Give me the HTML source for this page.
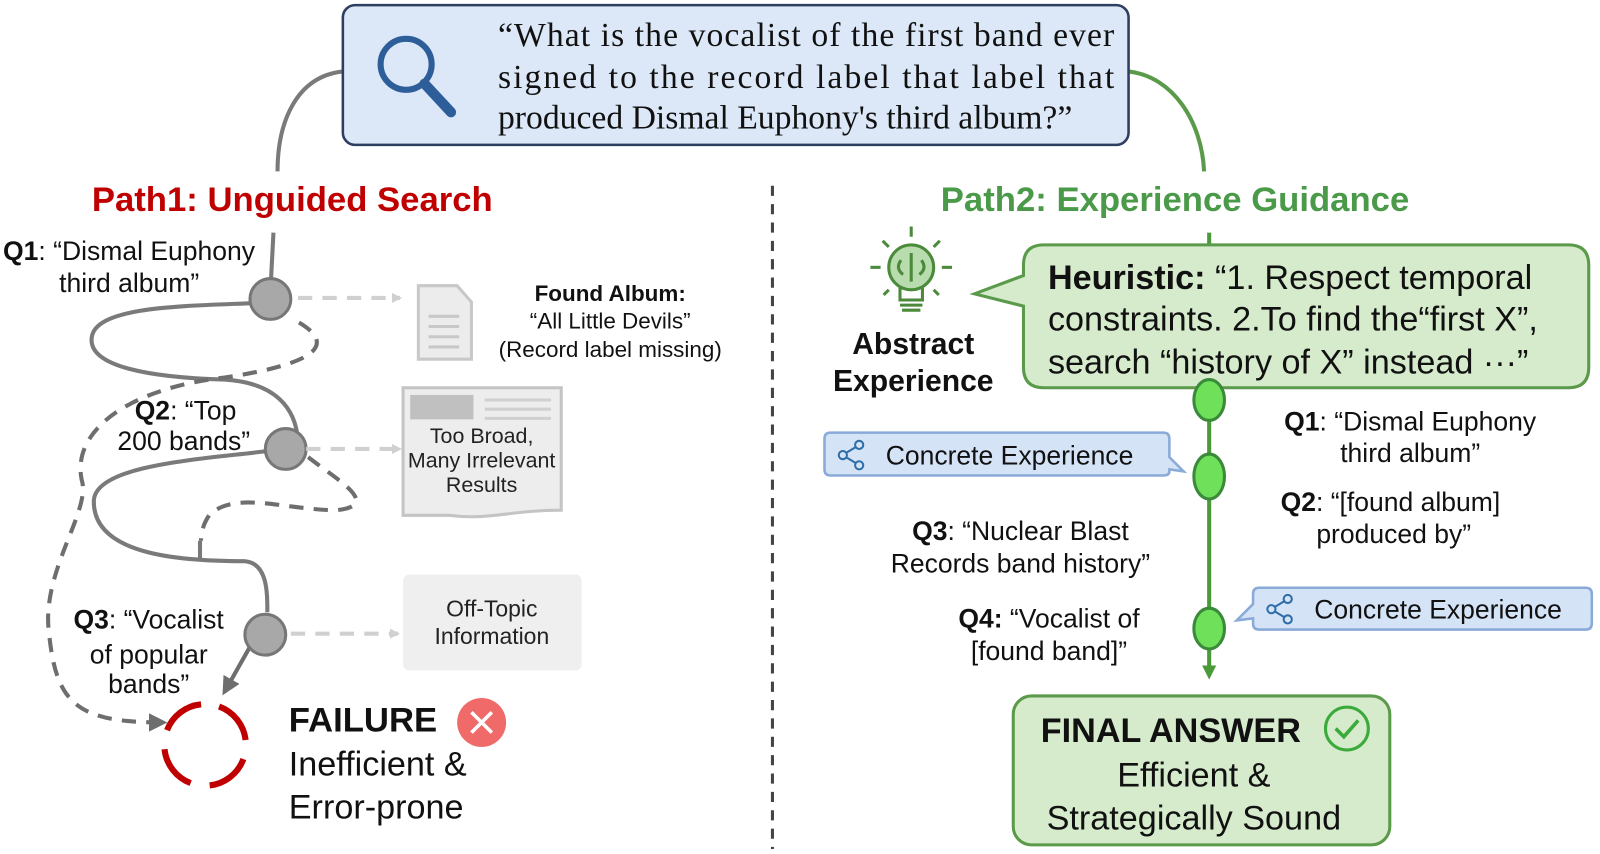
<!DOCTYPE html>
<html><head><meta charset="utf-8"><style>
html,body{margin:0;padding:0;background:#fff;}
svg{display:block;}
text{font-family:"Liberation Sans",sans-serif;}
</style></head><body>
<svg width="1600" height="854" viewBox="0 0 1600 854" xmlns="http://www.w3.org/2000/svg">
<defs>
<marker id="ag" markerWidth="10" markerHeight="10" refX="8" refY="5" orient="auto" markerUnits="userSpaceOnUse"><path d="M0,0 L10,5 L0,10 z" fill="#d0d0d0"/></marker>
<marker id="ad" markerWidth="18" markerHeight="18" refX="14" refY="9" orient="auto" markerUnits="userSpaceOnUse"><path d="M0,0 L18,9 L0,18 z" fill="#6e6e6e"/></marker>
<marker id="agr" markerWidth="14" markerHeight="14" refX="10" refY="7" orient="auto" markerUnits="userSpaceOnUse"><path d="M0,0 L14,7 L0,14 z" fill="#4a9a3a"/></marker>
</defs>
<g transform="scale(1.0204)">

<path d="M336,70 C290,75 272,120 272,168" fill="none" stroke="#7a7a7a" stroke-width="4"/>
<path d="M1106,70 C1150,75 1178,120 1180,168" fill="none" stroke="#5a9a4a" stroke-width="4"/>

<rect x="336" y="5" width="770" height="137" rx="12" fill="#dce8f7" stroke="#2d3e60" stroke-width="2.5"/>
<circle cx="398" cy="63" r="25" fill="none" stroke="#2e5e9a" stroke-width="6"/>
<line x1="416" y1="82" x2="442" y2="110" stroke="#2e5e9a" stroke-width="10" stroke-linecap="round"/>
<g font-size="33" fill="#111">
<text x="488" y="45" textLength="604" style="font-family:'Liberation Serif',serif">“What is the vocalist of the first band ever</text>
<text x="488" y="86" textLength="604" style="font-family:'Liberation Serif',serif">signed to the record label that label that</text>
<text x="488" y="126" style="font-family:'Liberation Serif',serif">produced Dismal Euphony's third album?”</text>
</g>

<line x1="757" y1="182" x2="757" y2="832" stroke="#444" stroke-width="3" stroke-dasharray="10,8"/>

<text x="90" y="207" font-size="34" font-weight="bold" fill="#c00000">Path1: Unguided Search</text>
<text x="922" y="207" font-size="34" font-weight="bold" fill="#4a9a4a">Path2: Experience Guidance</text>

<line x1="268" y1="228" x2="265" y2="285" stroke="#7a7a7a" stroke-width="4"/>
<path d="M250,297 C180,300 95,300 90,330 C85,360 150,370 220,372 C270,375 290,400 292,432" fill="none" stroke="#7a7a7a" stroke-width="4"/>
<path d="M262,442 C200,450 95,455 92,490 C90,545 180,550 240,550 C262,552 262,580 262,600" fill="none" stroke="#7a7a7a" stroke-width="4"/>
<line x1="196" y1="530" x2="196" y2="550" stroke="#7a7a7a" stroke-width="4"/>
<path d="M250,625 L220,678" fill="none" stroke="#6e6e6e" stroke-width="4" marker-end="url(#ad)"/>
<path d="M293,316 C325,335 320,355 220,370 C130,380 70,420 80,470 C90,500 40,560 48,620 C55,690 75,708 160,708" fill="none" stroke="#6e6e6e" stroke-width="4" stroke-dasharray="14,10" marker-end="url(#ad)"/>
<path d="M302,448 C330,470 375,495 330,500 C280,500 230,480 205,505 C198,515 197,525 197,530" fill="none" stroke="#6e6e6e" stroke-width="4" stroke-dasharray="14,10"/>
<circle cx="265" cy="293" r="20" fill="#a8a8a8" stroke="#777" stroke-width="3"/>
<circle cx="280" cy="440" r="20" fill="#a8a8a8" stroke="#777" stroke-width="3"/>
<circle cx="260" cy="622" r="20" fill="#a8a8a8" stroke="#777" stroke-width="3"/>

<g stroke="#d0d0d0" stroke-width="4" stroke-dasharray="14,10" fill="none">
<line x1="292" y1="292" x2="392" y2="292" marker-end="url(#ag)"/>
<line x1="300" y1="440" x2="392" y2="440" marker-end="url(#ag)"/>
<line x1="285" y1="621" x2="390" y2="621" marker-end="url(#ag)"/>
</g>

<path d="M410,280 L448,280 L462,296 L462,352 L410,352 z" fill="#ececec" stroke="#c8c8c8" stroke-width="3"/>
<g stroke="#c8c8c8" stroke-width="3"><line x1="420" y1="310" x2="450" y2="310"/><line x1="420" y1="320" x2="450" y2="320"/><line x1="420" y1="330" x2="450" y2="330"/><line x1="420" y1="340" x2="450" y2="340"/></g>
<text x="598" y="295" font-size="22" font-weight="bold" text-anchor="middle" fill="#111">Found Album:</text>
<text x="598" y="322" font-size="22" text-anchor="middle" fill="#111">“All Little Devils”</text>
<text x="598" y="350" font-size="22" text-anchor="middle" fill="#111">(Record label missing)</text>

<path d="M395,380 L550,380 L550,500 C500,500 480,510 440,505 L395,505 z" fill="#ededed" stroke="#c4c4c4" stroke-width="3"/>
<rect x="402" y="387" width="62" height="24" fill="#c0c0c0"/>
<g stroke="#d0d0d0" stroke-width="3"><line x1="475" y1="392" x2="540" y2="392"/><line x1="475" y1="401" x2="540" y2="401"/><line x1="475" y1="410" x2="540" y2="410"/></g>
<text x="472" y="434" font-size="21" text-anchor="middle" fill="#222">Too Broad,</text>
<text x="472" y="458" font-size="21" text-anchor="middle" fill="#222">Many Irrelevant</text>
<text x="472" y="482" font-size="21" text-anchor="middle" fill="#222">Results</text>

<rect x="395" y="563" width="175" height="94" rx="6" fill="#efefef"/>
<text x="482" y="604" font-size="22.5" text-anchor="middle" fill="#222">Off-Topic</text>
<text x="482" y="631" font-size="22.5" text-anchor="middle" fill="#222">Information</text>

<g font-size="26" fill="#111">
<text x="3" y="255"><tspan font-weight="bold">Q1</tspan>: “Dismal Euphony</text>
<text x="58" y="286">third album”</text>
<text x="132" y="411"><tspan font-weight="bold">Q2</tspan>: “Top</text>
<text x="115" y="441">200 bands”</text>
<text x="72" y="616"><tspan font-weight="bold">Q3</tspan>: “Vocalist</text>
<text x="88" y="650">of popular</text>
<text x="106" y="679">bands”</text>
</g>

<circle cx="201" cy="730" r="40" fill="none" stroke="#c00000" stroke-width="6" stroke-dasharray="44,19" transform="rotate(-70 201 730)"/>
<text x="283" y="717" font-size="34" font-weight="bold" fill="#111">FAILURE</text>
<circle cx="472" cy="708" r="24" fill="#f06a6a"/>
<path d="M462,698 L482,718 M482,698 L462,718" stroke="#fff" stroke-width="3.5"/>
<text x="283" y="760" font-size="33.5" fill="#111">Inefficient &amp;</text>
<text x="283" y="802" font-size="33.5" fill="#111">Error-prone</text>

<line x1="1185" y1="228" x2="1185" y2="245" stroke="#4a9a3a" stroke-width="4"/>
<line x1="1185" y1="380" x2="1185" y2="662" stroke="#4a9a3a" stroke-width="4" marker-end="url(#agr)"/>

<g stroke="#4a8a3a" stroke-width="3" fill="none">
<circle cx="893" cy="262" r="22" fill="#b8dcae"/>
<path d="M882,282 L882,294 L904,294 L904,282"/>
<line x1="882" y1="299" x2="904" y2="299"/><line x1="884" y1="304" x2="902" y2="304"/>
<line x1="893" y1="222" x2="893" y2="232"/><line x1="853" y1="262" x2="863" y2="262"/><line x1="923" y1="262" x2="933" y2="262"/>
<line x1="865" y1="236" x2="871" y2="242"/><line x1="921" y1="236" x2="915" y2="242"/>
<line x1="866" y1="289" x2="871" y2="284"/><line x1="920" y1="289" x2="915" y2="284"/>
<path d="M893,248 L893,276 M883,255 q-6,8 2,14 M903,255 q6,8 -2,14"/>
</g>
<text x="895" y="347" font-size="29.5" font-weight="bold" text-anchor="middle" fill="#111">Abstract</text>
<text x="895" y="383" font-size="29.5" font-weight="bold" text-anchor="middle" fill="#111">Experience</text>

<path d="M1023,240 L1537,240 Q1557,240 1557,260 L1557,360 Q1557,380 1537,380 L1023,380 Q1003,380 1003,360 L1003,300 L955,288 L1003,270 L1003,260 Q1003,240 1023,240 z" fill="#d5ebcc" stroke="#5a9a4a" stroke-width="3"/>
<g font-size="33.5" fill="#111">
<text x="1027" y="283"><tspan font-weight="bold">Heuristic:</tspan> “1. Respect temporal</text>
<text x="1027" y="324">constraints. 2.To find the“first X”,</text>
<text x="1027" y="366">search “history of X” instead ···”</text>
</g>

<g fill="#6ee05a" stroke="#3a8a3a" stroke-width="3">
<ellipse cx="1185" cy="392" rx="15" ry="20"/>
<ellipse cx="1185" cy="467" rx="15" ry="22"/>
<ellipse cx="1185" cy="616" rx="15" ry="20"/>
</g>

<path d="M814,424 L1140,424 Q1146,424 1146,430 L1146,448 L1160,462 L1146,460 L1146,462 Q1146,466 1140,466 L814,466 Q808,466 808,460 L808,430 Q808,424 814,424 z" fill="#d5e3f6" stroke="#8aaad8" stroke-width="2.5"/>
<g stroke="#2e6ea8" stroke-width="2" fill="none"><circle cx="826" cy="446" r="4"/><circle cx="842" cy="436" r="4"/><circle cx="842" cy="456" r="4"/><line x1="829" y1="444" x2="839" y2="438"/><line x1="829" y1="448" x2="839" y2="454"/></g>
<text x="868" y="455" font-size="26" fill="#111">Concrete Experience</text>

<path d="M1234,576 L1554,576 Q1560,576 1560,582 L1560,611 Q1560,617 1554,617 L1234,617 Q1228,617 1228,611 L1228,606 L1212,608 L1228,592 L1228,582 Q1228,576 1234,576 z" fill="#d5e3f6" stroke="#8aaad8" stroke-width="2.5"/>
<g stroke="#2e6ea8" stroke-width="2" fill="none"><circle cx="1246" cy="597" r="4"/><circle cx="1262" cy="587" r="4"/><circle cx="1262" cy="607" r="4"/><line x1="1249" y1="595" x2="1259" y2="589"/><line x1="1249" y1="599" x2="1259" y2="605"/></g>
<text x="1288" y="606" font-size="26" fill="#111">Concrete Experience</text>

<g font-size="26" fill="#111">
<text x="1382" y="422" text-anchor="middle"><tspan font-weight="bold">Q1</tspan>: “Dismal Euphony</text>
<text x="1382" y="453" text-anchor="middle">third album”</text>
<text x="1255" y="501"><tspan font-weight="bold">Q2</tspan>: “[found  album]</text>
<text x="1290" y="532">produced by”</text>
<text x="1000" y="529" text-anchor="middle"><tspan font-weight="bold">Q3</tspan>: “Nuclear Blast</text>
<text x="1000" y="561" text-anchor="middle">Records band history”</text>
<text x="1028" y="615" text-anchor="middle"><tspan font-weight="bold">Q4:</tspan> “Vocalist of</text>
<text x="1028" y="647" text-anchor="middle">[found band]”</text>
</g>

<rect x="993" y="682" width="369" height="146" rx="18" fill="#d5ebcc" stroke="#5a9a4a" stroke-width="3"/>
<text x="1020" y="727" font-size="33.5" font-weight="bold" fill="#111">FINAL ANSWER</text>
<circle cx="1320" cy="714" r="21" fill="none" stroke="#3aaa3a" stroke-width="3"/>
<path d="M1309,714 L1317,722 L1331,706" fill="none" stroke="#3aaa3a" stroke-width="3.5"/>
<text x="1170" y="771" font-size="33.5" text-anchor="middle" fill="#111">Efficient &amp;</text>
<text x="1170" y="813" font-size="33.5" text-anchor="middle" fill="#111">Strategically Sound</text>
</g>
</svg>
</body></html>
